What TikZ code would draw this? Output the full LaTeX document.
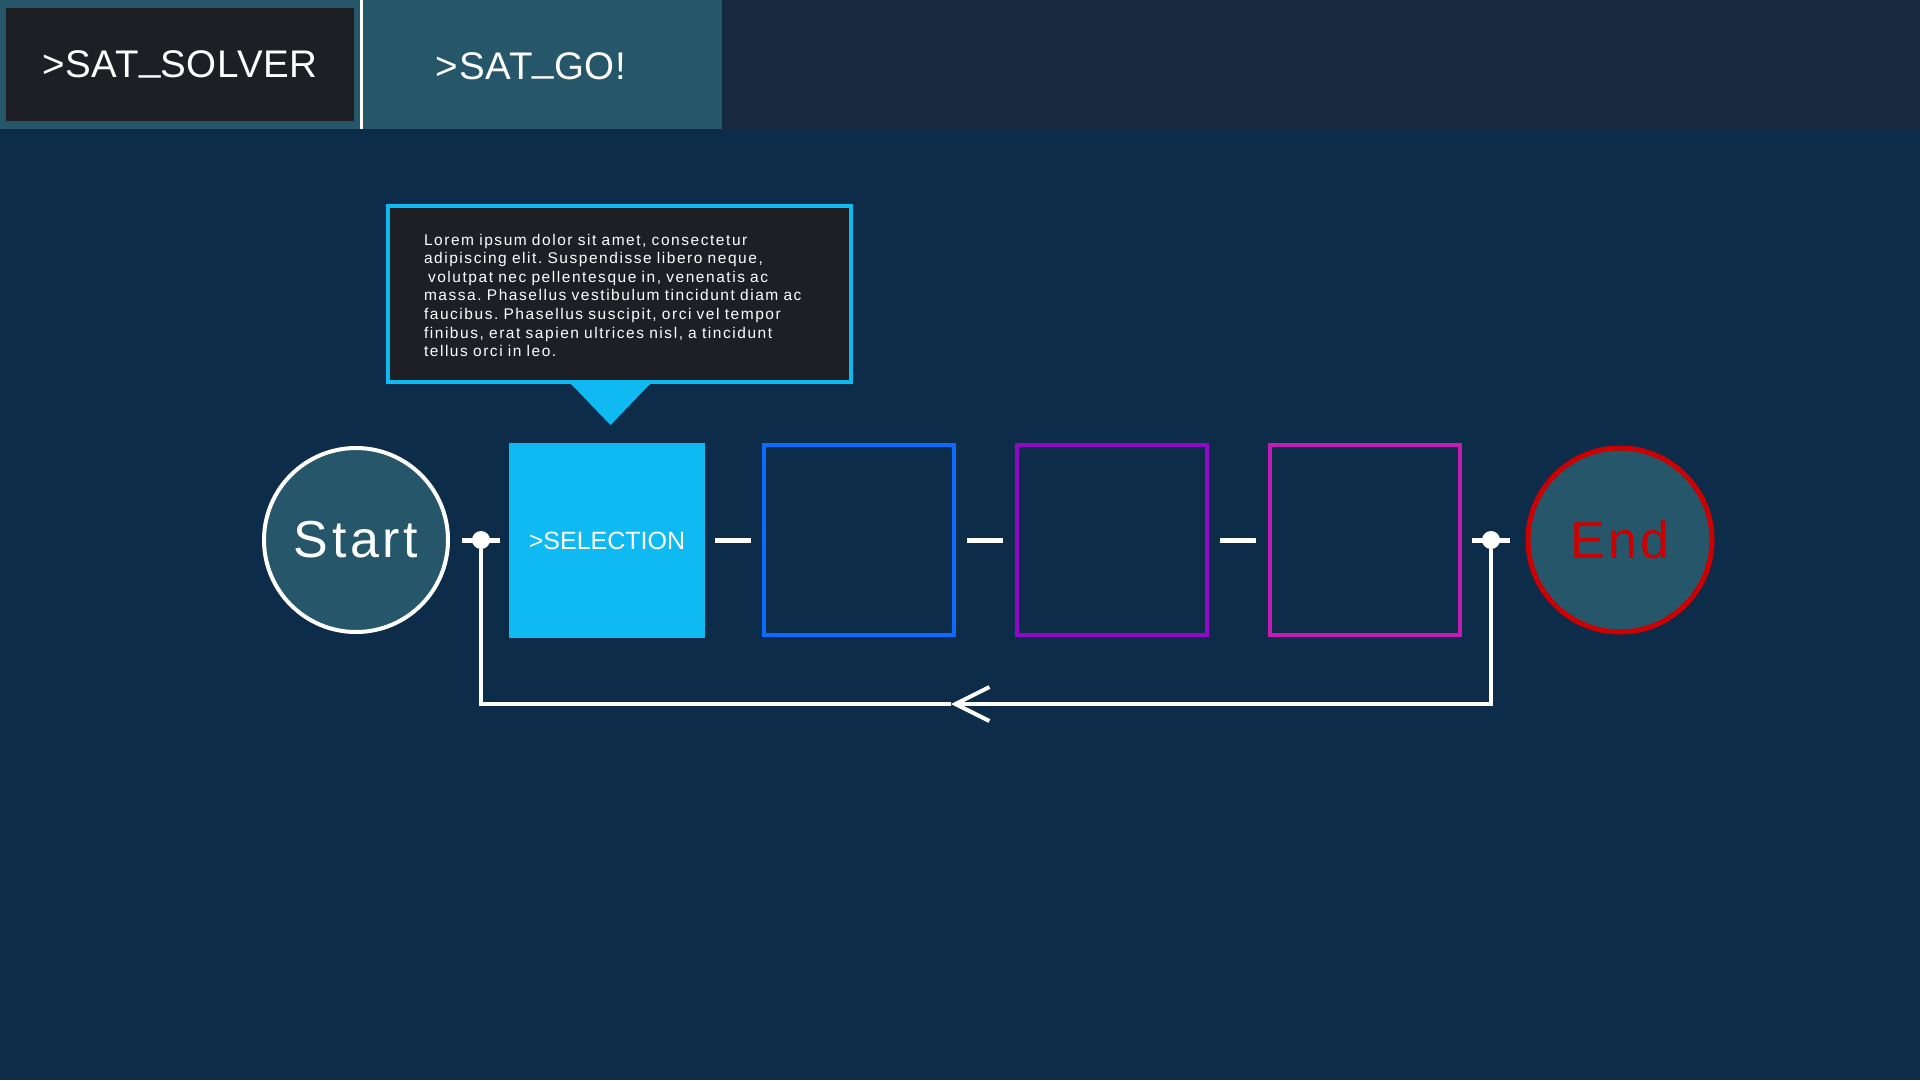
\documentclass[tikz,border=0pt]{standalone}
\usepackage{fontspec}
\setmainfont{Liberation Sans}
\usetikzlibrary{positioning, arrows.meta, calc}

\definecolor{pagebg}{HTML}{0D2C4A}
\definecolor{barbg}{HTML}{16293E}
\definecolor{tealfill}{HTML}{255669}
\definecolor{darkfill}{HTML}{1E1F24}
\definecolor{cyanfill}{HTML}{0FBAF3}
\definecolor{stageblue}{HTML}{0A6BFF}
\definecolor{stagepurple}{HTML}{9208C8}
\definecolor{stagemagenta}{HTML}{C41BB6}
\definecolor{endred}{HTML}{CC0000}

\newcommand{\lowbar}{\raisebox{0.2em}{\_}}

\tikzset{
    tab/.style={text=white, inner sep=0pt, font=\fontsize{38.5}{44}\selectfont\addfontfeature{LetterSpace=2}},
    terminal/.style={circle, fill=tealfill, inner sep=0pt, minimum size=184pt,
        font=\fontsize{52}{60}\selectfont\addfontfeature{LetterSpace=7}},
    stage/.style={draw=#1, line width=4pt, minimum width=190pt, minimum height=190pt, inner sep=0pt},
    joint/.style={circle, fill=white, inner sep=0pt, minimum size=18pt},
    link/.style={white, line width=5pt},
    loopline/.style={white, line width=4pt},
}

\begin{document}
\frenchspacing
\begin{tikzpicture}[x=1pt, y=-1pt]
    \useasboundingbox (0,0) rectangle (1920,1080);
    \fill[pagebg] (0,0) rectangle (1920,1080);
    % header bar
    \fill[barbg] (0,0) rectangle (1920,129);
    \fill[tealfill] (0,0) rectangle (722,129);
    \node[tab, fill=darkfill, minimum width=348pt, minimum height=113pt] (solver) at (180,64.5) {>SAT\lowbar SOLVER};
    \node[tab] (go) at (531,66) {>SAT\lowbar GO!};
    \draw[white, line width=3pt] (361,0) -- (361,129);

    % tooltip
    \node[draw=cyanfill, line width=4pt, fill=darkfill, minimum width=463pt, minimum height=176pt,
        inner sep=0pt, text width=391pt, align=left, text=white,
        font=\fontsize{15.5}{18.6}\selectfont\addfontfeature{LetterSpace=10}] (tip) at (619.5,294)
        {\rule{0pt}{14pt}Lorem ipsum dolor sit amet, consectetur\\
         adipiscing elit. Suspendisse libero neque,\\
         \hspace*{4pt}volutpat nec pellentesque in, venenatis ac\\
         massa. Phasellus vestibulum tincidunt diam ac\\
         faucibus. Phasellus suscipit, orci vel tempor\\
         finibus, erat sapien ultrices nisl, a tincidunt\\
         tellus orci in leo.};
    \fill[cyanfill] (571,384) -- (650,384) -- (610.5,425) -- cycle;

    % pipeline
    \node[terminal, draw=white, line width=4pt, text=white] (start) at (356,540) {Start};
    \node[fill=cyanfill, minimum width=196pt, minimum height=195pt, inner sep=0pt, text=white,
        font=\fontsize{25}{30}\selectfont] (sel) at (607,540.5) {>SELECTION};
    \node[stage=stageblue] (blue) at (858.5,540) {};
    \node[stage=stagepurple] (purple) at (1111.5,540) {};
    \node[stage=stagemagenta] (magenta) at (1364.5,540) {};
    \node[terminal, draw=endred, line width=5pt, text=endred] (end) at (1620,540) {End};

    \node[joint] (ldot) at (481,540) {};
    \node[joint] (rdot) at (1491,540) {};
    \draw[link] ([xshift=-19pt]ldot.center) -- ([xshift=19pt]ldot.center);
    \draw[link] ([xshift=-19pt]rdot.center) -- ([xshift=19pt]rdot.center);

    \draw[link] ($(sel.east)!0.5!(blue.west)+(-18,0)$) -- ($(sel.east)!0.5!(blue.west)+(18,0)$);
    \draw[link] ($(blue.east)!0.5!(purple.west)+(-18,0)$) -- ($(blue.east)!0.5!(purple.west)+(18,0)$);
    \draw[link] ($(purple.east)!0.5!(magenta.west)+(-18,0)$) -- ($(purple.east)!0.5!(magenta.west)+(18,0)$);

    % feedback loop
    \coordinate (back) at (951,704);
    \draw[loopline, -{Straight Barb[length=34pt, width=34pt, line width=4pt]}] (rdot) |- (back);
    \draw[loopline] (back) -| (ldot);
\end{tikzpicture}
\end{document}
